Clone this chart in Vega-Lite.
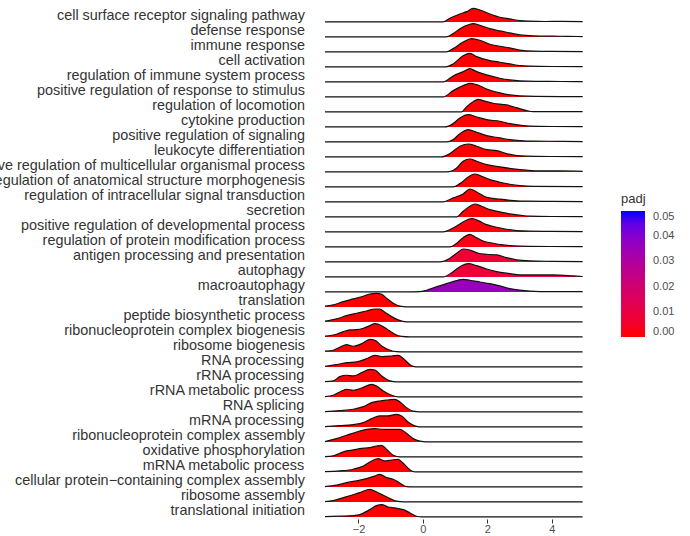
{
"$schema": "https://vega.github.io/schema/vega-lite/v6.json",
"autosize": {"type": "none"},
"bounds": "flush",
"padding": {"left": 325, "top": 9, "right": 365, "bottom": 527},
"background": "white",
"datasets": {
"terms": [
{"id":1,"term":"cell surface receptor signaling pathway","padj":0.0001},
{"id":2,"term":"defense response","padj":0.0001},
{"id":3,"term":"immune response","padj":0.0001},
{"id":4,"term":"cell activation","padj":0.0001},
{"id":5,"term":"regulation of immune system process","padj":0.0001},
{"id":6,"term":"positive regulation of response to stimulus","padj":0.0001},
{"id":7,"term":"regulation of locomotion","padj":0.0001},
{"id":8,"term":"cytokine production","padj":0.0001},
{"id":9,"term":"positive regulation of signaling","padj":0.0001},
{"id":10,"term":"leukocyte differentiation","padj":0.0001},
{"id":11,"term":"positive regulation of multicellular organismal process","padj":0.0002},
{"id":12,"term":"regulation of anatomical structure morphogenesis","padj":0.0003},
{"id":13,"term":"regulation of intracellular signal transduction","padj":0.0003},
{"id":14,"term":"secretion","padj":0.0005},
{"id":15,"term":"positive regulation of developmental process","padj":0.001},
{"id":16,"term":"regulation of protein modification process","padj":0.002},
{"id":17,"term":"antigen processing and presentation","padj":0.007},
{"id":18,"term":"autophagy","padj":0.008},
{"id":19,"term":"macroautophagy","padj":0.036},
{"id":20,"term":"translation","padj":0.0001},
{"id":21,"term":"peptide biosynthetic process","padj":0.0001},
{"id":22,"term":"ribonucleoprotein complex biogenesis","padj":0.0001},
{"id":23,"term":"ribosome biogenesis","padj":0.0001},
{"id":24,"term":"RNA processing","padj":0.0001},
{"id":25,"term":"rRNA processing","padj":0.0001},
{"id":26,"term":"rRNA metabolic process","padj":0.0001},
{"id":27,"term":"RNA splicing","padj":0.0001},
{"id":28,"term":"mRNA processing","padj":0.0001},
{"id":29,"term":"ribonucleoprotein complex assembly","padj":0.0001},
{"id":30,"term":"oxidative phosphorylation","padj":0.0001},
{"id":31,"term":"mRNA metabolic process","padj":0.0001},
{"id":32,"term":"cellular protein−containing complex assembly","padj":0.0001},
{"id":33,"term":"ribosome assembly","padj":0.0001},
{"id":34,"term":"translational initiation","padj":0.0001}
],
"ridges": [
{"id":1,"x":-3.04,"d":0},{"id":1,"x":0.63,"d":0},{"id":1,"x":0.84,"d":3.7},{"id":1,"x":1.15,"d":8},{"id":1,"x":1.36,"d":10.3},{"id":1,"x":1.56,"d":13.7},{"id":1,"x":1.77,"d":12},{"id":1,"x":2.08,"d":8},{"id":1,"x":2.39,"d":4.7},{"id":1,"x":2.7,"d":3},{"id":1,"x":3.01,"d":1.3},{"id":1,"x":3.32,"d":0.7},{"id":1,"x":3.8,"d":0.4},{"id":1,"x":4.3,"d":0.5},{"id":1,"x":4.96,"d":0.3},
{"id":2,"x":-3.04,"d":0},{"id":2,"x":0.72,"d":0},{"id":2,"x":0.94,"d":3.3},{"id":2,"x":1.15,"d":8.3},{"id":2,"x":1.46,"d":12.7},{"id":2,"x":1.56,"d":13.3},{"id":2,"x":1.77,"d":11.7},{"id":2,"x":2.08,"d":8.3},{"id":2,"x":2.39,"d":6},{"id":2,"x":2.7,"d":4},{"id":2,"x":3.01,"d":2},{"id":2,"x":3.43,"d":1},{"id":2,"x":4.05,"d":0.7},{"id":2,"x":4.5,"d":0.6},{"id":2,"x":4.96,"d":0.3},
{"id":3,"x":-3.04,"d":0},{"id":3,"x":0.72,"d":0},{"id":3,"x":0.94,"d":3.3},{"id":3,"x":1.25,"d":10},{"id":3,"x":1.51,"d":13.3},{"id":3,"x":1.77,"d":11.7},{"id":3,"x":2.08,"d":7.7},{"id":3,"x":2.39,"d":5.7},{"id":3,"x":2.7,"d":4},{"id":3,"x":3.01,"d":1.7},{"id":3,"x":3.43,"d":0.7},{"id":3,"x":4.0,"d":0.5},{"id":3,"x":4.96,"d":0.3},
{"id":4,"x":-3.04,"d":0},{"id":4,"x":0.72,"d":0},{"id":4,"x":0.94,"d":3},{"id":4,"x":1.25,"d":11.3},{"id":4,"x":1.46,"d":13.7},{"id":4,"x":1.67,"d":10.3},{"id":4,"x":2.08,"d":6.3},{"id":4,"x":2.39,"d":4.7},{"id":4,"x":2.7,"d":3},{"id":4,"x":3.01,"d":1.3},{"id":4,"x":3.32,"d":0.7},{"id":4,"x":4.0,"d":0.4},{"id":4,"x":4.96,"d":0.3},
{"id":5,"x":-3.04,"d":0},{"id":5,"x":0.63,"d":0},{"id":5,"x":0.94,"d":6},{"id":5,"x":1.25,"d":10.3},{"id":5,"x":1.46,"d":13.3},{"id":5,"x":1.67,"d":10.3},{"id":5,"x":1.98,"d":7},{"id":5,"x":2.39,"d":3.7},{"id":5,"x":2.7,"d":2},{"id":5,"x":3.01,"d":1},{"id":5,"x":3.5,"d":0.5},{"id":5,"x":4.3,"d":0.4},{"id":5,"x":4.96,"d":0.3},
{"id":6,"x":-3.04,"d":0},{"id":6,"x":0.63,"d":0},{"id":6,"x":0.94,"d":6.3},{"id":6,"x":1.25,"d":11.3},{"id":6,"x":1.46,"d":13.7},{"id":6,"x":1.67,"d":12.3},{"id":6,"x":1.98,"d":8},{"id":6,"x":2.39,"d":4},{"id":6,"x":2.7,"d":2},{"id":6,"x":3.01,"d":1},{"id":6,"x":3.5,"d":0.5},{"id":6,"x":4.96,"d":0.3},
{"id":7,"x":-3.04,"d":0},{"id":7,"x":1.2,"d":0},{"id":7,"x":1.36,"d":5.3},{"id":7,"x":1.56,"d":10.3},{"id":7,"x":1.72,"d":12.7},{"id":7,"x":1.87,"d":11.3},{"id":7,"x":2.18,"d":8.7},{"id":7,"x":2.6,"d":7},{"id":7,"x":2.91,"d":4.3},{"id":7,"x":3.22,"d":1.3},{"id":7,"x":3.43,"d":0.3},{"id":7,"x":4.96,"d":0.2},
{"id":8,"x":-3.04,"d":0},{"id":8,"x":0.68,"d":0},{"id":8,"x":0.94,"d":3.3},{"id":8,"x":1.15,"d":9},{"id":8,"x":1.41,"d":12.3},{"id":8,"x":1.67,"d":10},{"id":8,"x":1.98,"d":7.3},{"id":8,"x":2.39,"d":5.7},{"id":8,"x":2.7,"d":3.3},{"id":8,"x":3.01,"d":1.7},{"id":8,"x":3.32,"d":0.7},{"id":8,"x":4.0,"d":0.4},{"id":8,"x":4.96,"d":0.3},
{"id":9,"x":-3.04,"d":0},{"id":9,"x":0.74,"d":0},{"id":9,"x":0.94,"d":2.3},{"id":9,"x":1.15,"d":8.3},{"id":9,"x":1.41,"d":12.3},{"id":9,"x":1.67,"d":9.7},{"id":9,"x":1.98,"d":6.3},{"id":9,"x":2.39,"d":4},{"id":9,"x":2.7,"d":2.3},{"id":9,"x":3.01,"d":1.3},{"id":9,"x":3.43,"d":0.7},{"id":9,"x":4.36,"d":0.6},{"id":9,"x":4.96,"d":0.3},
{"id":10,"x":-3.04,"d":0},{"id":10,"x":0.58,"d":0},{"id":10,"x":0.84,"d":3.3},{"id":10,"x":1.15,"d":10.7},{"id":10,"x":1.41,"d":13},{"id":10,"x":1.67,"d":10.7},{"id":10,"x":1.98,"d":7.3},{"id":10,"x":2.29,"d":6.3},{"id":10,"x":2.6,"d":3.3},{"id":10,"x":2.91,"d":1.3},{"id":10,"x":3.22,"d":0.7},{"id":10,"x":4.0,"d":0.4},{"id":10,"x":4.96,"d":0.3},
{"id":11,"x":-3.04,"d":0},{"id":11,"x":0.74,"d":0},{"id":11,"x":1.05,"d":4},{"id":11,"x":1.25,"d":10.7},{"id":11,"x":1.46,"d":13},{"id":11,"x":1.67,"d":10.7},{"id":11,"x":1.98,"d":7.3},{"id":11,"x":2.39,"d":5},{"id":11,"x":2.81,"d":3},{"id":11,"x":3.22,"d":1.7},{"id":11,"x":3.63,"d":1},{"id":11,"x":4.25,"d":1},{"id":11,"x":4.96,"d":0.5},
{"id":12,"x":-3.04,"d":0},{"id":12,"x":0.94,"d":0},{"id":12,"x":1.15,"d":3.3},{"id":12,"x":1.41,"d":10},{"id":12,"x":1.61,"d":13},{"id":12,"x":1.82,"d":10.7},{"id":12,"x":2.08,"d":7.3},{"id":12,"x":2.39,"d":4.7},{"id":12,"x":2.7,"d":2.7},{"id":12,"x":3.01,"d":1.3},{"id":12,"x":3.43,"d":0.5},{"id":12,"x":4.96,"d":0.3},
{"id":13,"x":-3.04,"d":0},{"id":13,"x":0.63,"d":0},{"id":13,"x":0.94,"d":4},{"id":13,"x":1.25,"d":8},{"id":13,"x":1.46,"d":13},{"id":13,"x":1.67,"d":10},{"id":13,"x":1.98,"d":4.7},{"id":13,"x":2.39,"d":2.7},{"id":13,"x":2.81,"d":1.3},{"id":13,"x":3.22,"d":0.7},{"id":13,"x":4.0,"d":0.5},{"id":13,"x":4.96,"d":0.3},
{"id":14,"x":-3.04,"d":0},{"id":14,"x":1.05,"d":0},{"id":14,"x":1.25,"d":5.7},{"id":14,"x":1.46,"d":10.7},{"id":14,"x":1.61,"d":13},{"id":14,"x":1.82,"d":10.7},{"id":14,"x":2.08,"d":7.3},{"id":14,"x":2.39,"d":5},{"id":14,"x":2.7,"d":3},{"id":14,"x":3.01,"d":1.7},{"id":14,"x":3.32,"d":0.7},{"id":14,"x":4.0,"d":0.4},{"id":14,"x":4.96,"d":0.3},
{"id":15,"x":-3.04,"d":0},{"id":15,"x":0.63,"d":0},{"id":15,"x":0.94,"d":4},{"id":15,"x":1.2,"d":9},{"id":15,"x":1.51,"d":13.3},{"id":15,"x":1.72,"d":11.3},{"id":15,"x":1.98,"d":7.3},{"id":15,"x":2.29,"d":4.7},{"id":15,"x":2.6,"d":2.7},{"id":15,"x":2.91,"d":1.3},{"id":15,"x":3.32,"d":0.7},{"id":15,"x":4.0,"d":0.5},{"id":15,"x":4.96,"d":0.3},
{"id":16,"x":-3.04,"d":0},{"id":16,"x":0.84,"d":0},{"id":16,"x":1.05,"d":3.7},{"id":16,"x":1.25,"d":9.3},{"id":16,"x":1.46,"d":12.7},{"id":16,"x":1.61,"d":10.3},{"id":16,"x":1.87,"d":6},{"id":16,"x":2.18,"d":3.7},{"id":16,"x":2.5,"d":2},{"id":16,"x":2.81,"d":1},{"id":16,"x":3.3,"d":0.5},{"id":16,"x":4.96,"d":0.3},
{"id":17,"x":-3.04,"d":0},{"id":17,"x":0.53,"d":0},{"id":17,"x":0.84,"d":3.7},{"id":17,"x":1.05,"d":8.7},{"id":17,"x":1.25,"d":13},{"id":17,"x":1.46,"d":12},{"id":17,"x":1.72,"d":8.7},{"id":17,"x":1.98,"d":7.7},{"id":17,"x":2.29,"d":7},{"id":17,"x":2.6,"d":4.3},{"id":17,"x":2.91,"d":2},{"id":17,"x":3.32,"d":1},{"id":17,"x":4.0,"d":0.6},{"id":17,"x":4.96,"d":0.3},
{"id":18,"x":-3.04,"d":0},{"id":18,"x":0.63,"d":0},{"id":18,"x":0.94,"d":5.3},{"id":18,"x":1.2,"d":11.3},{"id":18,"x":1.41,"d":13.3},{"id":18,"x":1.67,"d":11.3},{"id":18,"x":1.98,"d":8},{"id":18,"x":2.29,"d":5.3},{"id":18,"x":2.7,"d":3.3},{"id":18,"x":3.01,"d":2},{"id":18,"x":3.43,"d":2},{"id":18,"x":4.05,"d":2},{"id":18,"x":4.67,"d":1},{"id":18,"x":4.96,"d":0.4},
{"id":19,"x":-3.04,"d":0},{"id":19,"x":-0.45,"d":0},{"id":19,"x":-0.09,"d":0.3},{"id":19,"x":0.11,"d":1.7},{"id":19,"x":0.42,"d":5},{"id":19,"x":0.84,"d":9.3},{"id":19,"x":1.25,"d":12.7},{"id":19,"x":1.46,"d":11.7},{"id":19,"x":1.77,"d":10},{"id":19,"x":2.08,"d":8.3},{"id":19,"x":2.39,"d":6},{"id":19,"x":2.7,"d":3.3},{"id":19,"x":3.01,"d":1.7},{"id":19,"x":3.32,"d":0.7},{"id":19,"x":3.63,"d":0.3},{"id":19,"x":4.96,"d":0.2},
{"id":20,"x":-3.04,"d":0.7},{"id":20,"x":-2.785,"d":2},{"id":20,"x":-2.47,"d":5.3},{"id":20,"x":-2.16,"d":8},{"id":20,"x":-1.85,"d":10.7},{"id":20,"x":-1.65,"d":13},{"id":20,"x":-1.44,"d":13.7},{"id":20,"x":-1.28,"d":12.7},{"id":20,"x":-1.13,"d":8.7},{"id":20,"x":-0.92,"d":3.7},{"id":20,"x":-0.71,"d":0.7},{"id":20,"x":-0.51,"d":0},{"id":20,"x":4.96,"d":0},
{"id":21,"x":-3.04,"d":0.7},{"id":21,"x":-2.68,"d":3},{"id":21,"x":-2.37,"d":6.3},{"id":21,"x":-2.06,"d":8.7},{"id":21,"x":-1.75,"d":11},{"id":21,"x":-1.49,"d":13},{"id":21,"x":-1.34,"d":13},{"id":21,"x":-1.18,"d":9.7},{"id":21,"x":-0.97,"d":5.3},{"id":21,"x":-0.77,"d":2},{"id":21,"x":-0.51,"d":0},{"id":21,"x":4.96,"d":0},
{"id":22,"x":-3.04,"d":0.7},{"id":22,"x":-2.68,"d":2.7},{"id":22,"x":-2.47,"d":5.3},{"id":22,"x":-2.27,"d":7},{"id":22,"x":-2.06,"d":7.3},{"id":22,"x":-1.85,"d":8.7},{"id":22,"x":-1.65,"d":11.3},{"id":22,"x":-1.49,"d":13.3},{"id":22,"x":-1.28,"d":11.3},{"id":22,"x":-1.08,"d":7},{"id":22,"x":-0.87,"d":2.7},{"id":22,"x":-0.66,"d":0.5},{"id":22,"x":-0.4,"d":0},{"id":22,"x":4.96,"d":0},
{"id":23,"x":-3.04,"d":0.7},{"id":23,"x":-2.785,"d":1.7},{"id":23,"x":-2.58,"d":4.7},{"id":23,"x":-2.37,"d":7.3},{"id":23,"x":-2.16,"d":5.7},{"id":23,"x":-1.9,"d":8.3},{"id":23,"x":-1.65,"d":12.7},{"id":23,"x":-1.49,"d":11.7},{"id":23,"x":-1.28,"d":6},{"id":23,"x":-1.02,"d":1.7},{"id":23,"x":-0.82,"d":0.3},{"id":23,"x":-0.6,"d":0},{"id":23,"x":4.96,"d":0},
{"id":24,"x":-3.04,"d":0.5},{"id":24,"x":-2.68,"d":2.3},{"id":24,"x":-2.37,"d":4.3},{"id":24,"x":-2.06,"d":5},{"id":24,"x":-1.75,"d":8.3},{"id":24,"x":-1.49,"d":11.7},{"id":24,"x":-1.23,"d":10.3},{"id":24,"x":-0.97,"d":11},{"id":24,"x":-0.77,"d":11.7},{"id":24,"x":-0.56,"d":7},{"id":24,"x":-0.35,"d":1},{"id":24,"x":-0.2,"d":0},{"id":24,"x":4.96,"d":0},
{"id":25,"x":-3.04,"d":0.3},{"id":25,"x":-2.785,"d":1},{"id":25,"x":-2.58,"d":5.3},{"id":25,"x":-2.37,"d":6.7},{"id":25,"x":-2.16,"d":6},{"id":25,"x":-1.9,"d":9.3},{"id":25,"x":-1.65,"d":12.7},{"id":25,"x":-1.49,"d":12},{"id":25,"x":-1.28,"d":6},{"id":25,"x":-1.02,"d":1},{"id":25,"x":-0.82,"d":0},{"id":25,"x":4.96,"d":0},
{"id":26,"x":-3.04,"d":0.3},{"id":26,"x":-2.785,"d":1.7},{"id":26,"x":-2.58,"d":5},{"id":26,"x":-2.37,"d":7.7},{"id":26,"x":-2.16,"d":6.7},{"id":26,"x":-1.9,"d":9},{"id":26,"x":-1.59,"d":12.7},{"id":26,"x":-1.44,"d":11},{"id":26,"x":-1.23,"d":6},{"id":26,"x":-0.97,"d":1.7},{"id":26,"x":-0.77,"d":0},{"id":26,"x":4.96,"d":0},
{"id":27,"x":-3.04,"d":0.3},{"id":27,"x":-2.58,"d":1.3},{"id":27,"x":-2.16,"d":2.7},{"id":27,"x":-1.85,"d":5.3},{"id":27,"x":-1.59,"d":9.3},{"id":27,"x":-1.34,"d":11},{"id":27,"x":-1.08,"d":12},{"id":27,"x":-0.87,"d":12.7},{"id":27,"x":-0.71,"d":10},{"id":27,"x":-0.51,"d":4.3},{"id":27,"x":-0.3,"d":0.7},{"id":27,"x":-0.09,"d":0},{"id":27,"x":4.96,"d":0},
{"id":28,"x":-3.04,"d":0.3},{"id":28,"x":-2.58,"d":1.3},{"id":28,"x":-2.16,"d":2.3},{"id":28,"x":-1.85,"d":4.3},{"id":28,"x":-1.59,"d":8.3},{"id":28,"x":-1.34,"d":11},{"id":28,"x":-1.08,"d":11},{"id":28,"x":-0.82,"d":12.7},{"id":28,"x":-0.66,"d":11},{"id":28,"x":-0.46,"d":5},{"id":28,"x":-0.25,"d":1},{"id":28,"x":-0.09,"d":0},{"id":28,"x":4.96,"d":0},
{"id":29,"x":-3.04,"d":0.3},{"id":29,"x":-2.68,"d":3.3},{"id":29,"x":-2.37,"d":6.7},{"id":29,"x":-2.06,"d":10},{"id":29,"x":-1.75,"d":12.7},{"id":29,"x":-1.49,"d":13.3},{"id":29,"x":-1.23,"d":12.7},{"id":29,"x":-0.97,"d":12.7},{"id":29,"x":-0.71,"d":12.7},{"id":29,"x":-0.51,"d":8.7},{"id":29,"x":-0.3,"d":3.3},{"id":29,"x":-0.09,"d":0.7},{"id":29,"x":0.1,"d":0},{"id":29,"x":4.96,"d":0},
{"id":30,"x":-3.04,"d":0.3},{"id":30,"x":-2.785,"d":1},{"id":30,"x":-2.58,"d":3.7},{"id":30,"x":-2.37,"d":6},{"id":30,"x":-2.16,"d":7},{"id":30,"x":-1.96,"d":8.3},{"id":30,"x":-1.65,"d":9.3},{"id":30,"x":-1.44,"d":11},{"id":30,"x":-1.28,"d":11.7},{"id":30,"x":-1.13,"d":7.7},{"id":30,"x":-0.92,"d":1.7},{"id":30,"x":-0.71,"d":0},{"id":30,"x":4.96,"d":0},
{"id":31,"x":-3.04,"d":0.3},{"id":31,"x":-2.58,"d":1},{"id":31,"x":-2.16,"d":2.7},{"id":31,"x":-1.85,"d":6},{"id":31,"x":-1.65,"d":10},{"id":31,"x":-1.39,"d":13.3},{"id":31,"x":-1.18,"d":11},{"id":31,"x":-0.97,"d":12},{"id":31,"x":-0.77,"d":12.7},{"id":31,"x":-0.61,"d":8.7},{"id":31,"x":-0.4,"d":2},{"id":31,"x":-0.25,"d":0},{"id":31,"x":4.96,"d":0},
{"id":32,"x":-3.04,"d":0.3},{"id":32,"x":-2.68,"d":1.7},{"id":32,"x":-2.37,"d":4.3},{"id":32,"x":-2.06,"d":6},{"id":32,"x":-1.75,"d":8.3},{"id":32,"x":-1.49,"d":11},{"id":32,"x":-1.34,"d":12.7},{"id":32,"x":-1.13,"d":9.3},{"id":32,"x":-0.92,"d":7.7},{"id":32,"x":-0.71,"d":3.7},{"id":32,"x":-0.51,"d":0.3},{"id":32,"x":-0.3,"d":0},{"id":32,"x":4.96,"d":0},
{"id":33,"x":-3.04,"d":0.3},{"id":33,"x":-2.785,"d":1.3},{"id":33,"x":-2.47,"d":4.3},{"id":33,"x":-2.22,"d":6.7},{"id":33,"x":-1.96,"d":9.3},{"id":33,"x":-1.75,"d":12},{"id":33,"x":-1.65,"d":12.7},{"id":33,"x":-1.44,"d":10},{"id":33,"x":-1.23,"d":6.7},{"id":33,"x":-1.02,"d":3.3},{"id":33,"x":-0.82,"d":0.7},{"id":33,"x":-0.6,"d":0},{"id":33,"x":4.96,"d":0},
{"id":34,"x":-3.04,"d":0.3},{"id":34,"x":-2.58,"d":0.7},{"id":34,"x":-2.16,"d":1.3},{"id":34,"x":-1.96,"d":2.3},{"id":34,"x":-1.65,"d":7.3},{"id":34,"x":-1.44,"d":11.3},{"id":34,"x":-1.28,"d":12.3},{"id":34,"x":-1.08,"d":10},{"id":34,"x":-0.87,"d":9},{"id":34,"x":-0.61,"d":7.3},{"id":34,"x":-0.4,"d":4},{"id":34,"x":-0.2,"d":0.7},{"id":34,"x":-0.04,"d":0},{"id":34,"x":4.96,"d":0}
]
},
"data": {"name": "ridges"},
"transform": [
{"lookup": "id", "from": {"data": {"name": "terms"}, "key": "id", "fields": ["term", "padj"]}}
],
"facet": {
"row": {
"field": "term", "type": "nominal",
"sort": {"field": "id", "op": "min", "order": "ascending"},
"header": {"title": null, "labelAngle": 0, "labelAlign": "left", "labelBaseline": "middle", "labelFont": "Liberation Sans", "labelFontSize": 14.4, "labelColor": "#333333", "labelPadding": 20}
}
},
"spacing": 0,
"spec": {
"width": 257.6,
"height": 14.91,
"encoding": {
"x": {"field": "x", "type": "quantitative", "scale": {"domain": [-3.04, 4.96], "nice": false, "zero": false},
"axis": {"values": [-2, 0, 2, 4], "title": null, "domain": false, "grid": false, "tickColor": "#333333", "tickSize": 4, "labelColor": "#4d4d4d", "labelFont": "Liberation Sans", "labelFontSize": 11, "labelPadding": 0, "offset": 0}},
"y": {"field": "d", "type": "quantitative", "scale": {"domain": [0, 15], "range": [12.9, -2.0], "nice": false, "zero": true}, "axis": null}
},
"layer": [
{"mark": {"type": "area", "interpolate": "monotone", "opacity": 1},
"encoding": {"color": {"field": "padj", "type": "quantitative", "scale": {"domain": [0, 0.05], "range": ["#ff0000", "#0000ff"], "interpolate": "lab"},
"legend": {"title": "padj", "orient": "none", "legendX": 296, "legendY": 184, "gradientLength": 126, "gradientThickness": 24, "gradientStrokeWidth": 0, "values": [0, 0.01, 0.02, 0.03, 0.04, 0.05], "format": ".2f", "labelFont": "Liberation Sans", "labelFontSize": 11, "labelColor": "#4d4d4d", "labelOffset": 8, "labelBaseline": "middle", "titleFont": "Liberation Sans", "titleFontSize": 13, "titleFontWeight": "normal", "titleColor": "#333333", "titlePadding": 5}}}},
{"mark": {"type": "line", "interpolate": "monotone", "color": "#111111", "strokeWidth": 1.2}}
]
},
"config": {"view": {"stroke": null}}
}
